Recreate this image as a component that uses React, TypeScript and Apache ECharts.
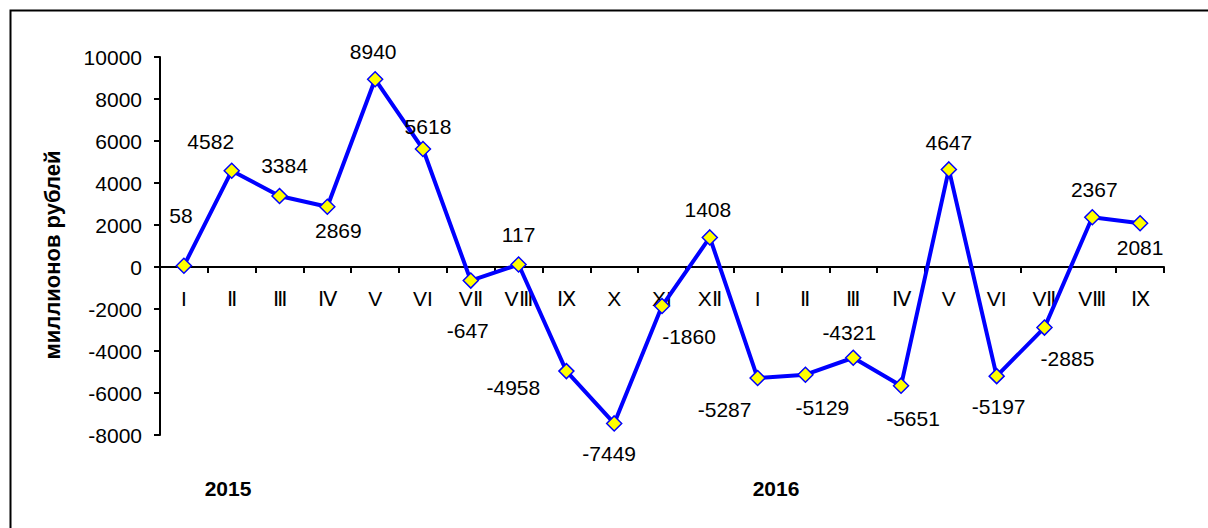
import React, { useEffect, useRef } from "react";
import * as echarts from "echarts";

const months: string[] = [
  "I", "Ⅱ", "Ⅲ", "Ⅳ", "V", "VI", "VⅡ", "VⅢ", "Ⅸ", "X", "XI", "XⅡ",
  "I", "Ⅱ", "Ⅲ", "Ⅳ", "V", "VI", "VⅡ", "VⅢ", "Ⅸ",
];
const values: number[] = [
  58, 4582, 3384, 2869, 8940, 5618, -647, 117, -4958, -7449, -1860, 1408,
  -5287, -5129, -4321, -5651, 4647, -5197, -2885, 2367, 2081,
];
const yearLabels: string[] = ["2015", "2016"];
const yAxisName = "миллионов рублей";

const Y_MIN = -8000;
const Y_MAX = 10000;

// label placement (pixel offsets from each marker)
const labelOffsets: [number, number][] = [
  [-3, -50], [-21, -29], [5, -30], [11, 24], [-2, -28], [5, -23], [-3, 50],
  [0, -30], [-53, 16], [-5, 30], [27, 30], [-2, -28], [-33, 31], [17, 33],
  [-4, -25], [12, 33], [0, -27], [2, 30], [23, 31], [2, -28], [0, 24],
];

const FONT = 'Arial, "Liberation Sans", sans-serif';
const GRID_TOP = 57;
const GRID_BOTTOM = 93;
const CHART_H = 528;

export default function App() {
  const ref = useRef<HTMLDivElement>(null);
  useEffect(() => {
    if (!ref.current) return;
    const chart = echarts.init(ref.current, undefined, { renderer: "svg" });
    const plotH = CHART_H - GRID_TOP - GRID_BOTTOM;
    // shift the category axis up so it sits on the zero line
    const zeroShift = (-Y_MIN / (Y_MAX - Y_MIN)) * plotH;
    chart.setOption({
      animation: false,
      backgroundColor: "#ffffff",
      grid: { left: 160, right: 44, top: GRID_TOP, bottom: GRID_BOTTOM, containLabel: false },
      xAxis: {
        type: "category",
        data: months,
        boundaryGap: true,
        offset: -zeroShift,
        axisLine: { onZero: false, lineStyle: { color: "#000", width: 2 } },
        axisTick: { show: true, alignWithLabel: false, length: 6, lineStyle: { color: "#000", width: 2 } },
        axisLabel: { color: "#000", fontSize: 21, fontFamily: FONT, margin: 21, interval: 0 },
        splitLine: { show: false },
      },
      yAxis: {
        type: "value",
        min: Y_MIN,
        max: Y_MAX,
        interval: 2000,
        axisLine: { show: true, lineStyle: { color: "#000", width: 2 } },
        axisTick: { show: true, length: 6, lineStyle: { color: "#000", width: 2 } },
        axisLabel: {
          color: "#000",
          fontSize: 21,
          fontFamily: FONT,
          margin: 18,
          formatter: (v: number) => String(v),
        },
        splitLine: { show: false },
      },
      series: [
        {
          type: "line",
          data: values.map((v, i) => ({
            value: v,
            label: { offset: labelOffsets[i] },
          })),
          lineStyle: { color: "#0000ff", width: 4 },
          symbol: "diamond",
          symbolSize: 15,
          itemStyle: { color: "#ffff00", borderColor: "#0000ff", borderWidth: 1.5 },
          label: {
            show: true,
            position: "inside",
            color: "#000",
            fontSize: 21,
            fontFamily: FONT,
          },
          z: 3,
        },
      ],
      graphic: [
        {
          type: "rect",
          shape: { x: 10.5, y: 10.5, width: 1260, height: 600 },
          style: { fill: "none", stroke: "#000", lineWidth: 2 },
          silent: true,
        },
        {
          type: "text",
          x: 52,
          y: 255,
          rotation: Math.PI / 2,
          style: {
            text: yAxisName,
            fontSize: 22,
            fontWeight: "bold",
            fontFamily: FONT,
            fill: "#000",
            textAlign: "center",
            textVerticalAlign: "middle",
          },
        },
        {
          type: "text",
          x: 228,
          y: 488,
          style: {
            text: yearLabels[0],
            fontSize: 21,
            fontWeight: "bold",
            fontFamily: FONT,
            fill: "#000",
            textAlign: "center",
            textVerticalAlign: "middle",
          },
        },
        {
          type: "text",
          x: 776,
          y: 488,
          style: {
            text: yearLabels[1],
            fontSize: 21,
            fontWeight: "bold",
            fontFamily: FONT,
            fill: "#000",
            textAlign: "center",
            textVerticalAlign: "middle",
          },
        },
      ],
    });
    return () => chart.dispose();
  }, []);
  return (
    <div
      ref={ref}
      style={{ position: "fixed", left: 0, top: 0, width: 1208, height: 528 }}
    />
  );
}
